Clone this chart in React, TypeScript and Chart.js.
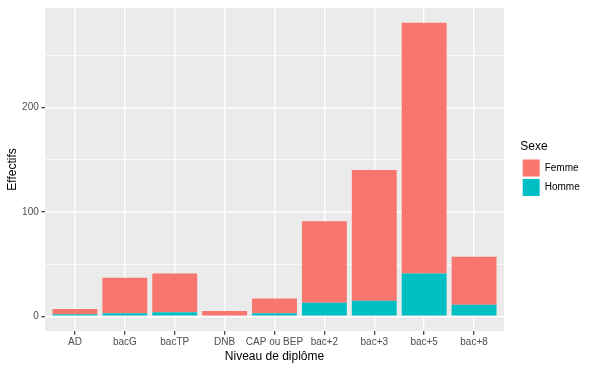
import React, { useEffect, useRef } from "react";
import { Chart, registerables } from "chart.js";

Chart.register(...registerables);

const categories = ["AD", "bacG", "bacTP", "DNB", "CAP ou BEP", "bac+2", "bac+3", "bac+5", "bac+8"];
const femme = [5, 34, 37, 5, 14, 78, 125, 240, 46];
const homme = [2, 3, 4, 0, 3, 13, 15, 41, 11];
const yTickValues = [0, 50, 100, 150, 200, 250];
const yLabeledTicks = [0, 100, 200];

const FEMME_COLOR = "#F8766D";
const HOMME_COLOR = "#00BFC4";
const PANEL_BG = "#EBEBEB";
const TICK_TEXT = "#4D4D4D";
const FONT = "'Liberation Sans', Arial, sans-serif";

const panelBg = {
  id: "panelBg",
  beforeDraw(chart: any) {
    const { ctx, chartArea } = chart;
    if (!chartArea) return;
    ctx.save();
    ctx.fillStyle = PANEL_BG;
    ctx.fillRect(chartArea.left, chartArea.top, chartArea.right - chartArea.left, chartArea.bottom - chartArea.top);
    ctx.restore();
  },
};

const legendPlace = {
  id: "legendPlace",
  beforeLayout(chart: any) {
    const lg = chart.legend;
    if (lg && !lg._patchedFit) {
      const orig = lg.fit.bind(lg);
      lg.fit = () => {
        orig();
        lg.width = 96;
      };
      lg._patchedFit = true;
    }
  },
  afterLayout(chart: any) {
    const lg = chart.legend;
    const ca = chart.chartArea;
    if (!lg || !ca) return;
    lg.left = ca.right + 16.2;
    lg.right = lg.left + 80;
    lg.top = ca.top;
    lg.bottom = ca.bottom;
  },
};

export default function App() {
  const canvasRef = useRef<HTMLCanvasElement | null>(null);

  useEffect(() => {
    document.body.style.margin = "0";
    const canvas = canvasRef.current;
    if (!canvas) return;

    const total = categories.map((_, i) => femme[i] + homme[i]);
    const maxTotal = Math.max(...total);
    const yMin = -0.05 * maxTotal;
    const yMax = 1.05 * maxTotal;
    const n = categories.length;

    const chart = new Chart(canvas, {
      type: "bar",
      data: {
        datasets: [
          {
            label: "Homme",
            data: homme.map((v, i) => ({ x: i, y: v })),
            backgroundColor: HOMME_COLOR,
            borderWidth: 0,
            barPercentage: 0.9,
            categoryPercentage: 1.0,
          },
          {
            label: "Femme",
            data: femme.map((v, i) => ({ x: i, y: v })),
            backgroundColor: FEMME_COLOR,
            borderWidth: 0,
            barPercentage: 0.9,
            categoryPercentage: 1.0,
          },
        ],
      },
      options: {
        responsive: false,
        animation: false,
        layout: { padding: { top: 6, left: 0, right: 0, bottom: 0 } },
        plugins: {
          tooltip: { enabled: false },
          legend: {
            position: "right",
            align: "center",
            reverse: true,
            title: {
              display: true,
              text: "Sexe",
              color: "#000000",
              font: { family: FONT, size: 12 },
              padding: { top: 0, bottom: 2 },
              position: "start",
            },
            labels: {
              boxWidth: 17,
              boxHeight: 17,
              padding: 2.5,
              color: "#000000",
              font: { family: FONT, size: 10 },
            },
          },
        },
        scales: {
          x: {
            type: "linear",
            stacked: true,
            offset: false,
            min: -0.6,
            max: n - 1 + 0.6,
            afterBuildTicks(scale: any) {
              scale.ticks = categories.map((_, i) => ({ value: i }));
            },
            afterFit(scale: any) {
              scale.height = 39;
            },
            ticks: {
              autoSkip: false,
              maxRotation: 0,
              minRotation: 0,
              padding: 2,
              color: TICK_TEXT,
              font: { family: FONT, size: 10 },
              callback: (value: any) => categories[Math.round(Number(value))] ?? "",
            },
            grid: {
              offset: false,
              color: "#FFFFFF",
              lineWidth: 1.4,
              drawTicks: true,
              tickLength: 3.7,
              tickColor: "#333333",
              tickWidth: 1.2,
            },
            border: { display: false },
            title: {
              display: true,
              text: "Niveau de diplôme",
              color: "#000000",
              font: { family: FONT, size: 12 },
              padding: { top: 0, bottom: 6 },
            },
          },
          y: {
            type: "linear",
            stacked: true,
            min: yMin,
            max: yMax,
            afterBuildTicks(scale: any) {
              scale.ticks = yTickValues.map((v) => ({ value: v }));
            },
            afterFit(scale: any) {
              scale.width = 45;
            },
            ticks: {
              autoSkip: false,
              padding: 2.5,
              color: TICK_TEXT,
              font: { family: FONT, size: 10, lineHeight: 1.1 },
              callback: (value: any) => (yLabeledTicks.includes(Number(value)) ? String(value) : ""),
            },
            grid: {
              color: "#FFFFFF",
              lineWidth: (ctx: any) => (yLabeledTicks.includes(ctx.tick?.value) ? 1.4 : 0.7),
              drawTicks: true,
              tickLength: 3.7,
              tickColor: (ctx: any) => (yLabeledTicks.includes(ctx.tick?.value) ? "#333333" : "rgba(0,0,0,0)"),
              tickWidth: 1.2,
            },
            border: { display: false },
            title: {
              display: true,
              text: "Effectifs",
              color: "#000000",
              font: { family: FONT, size: 12 },
              padding: { top: 5.6, bottom: 0 },
            },
          },
        },
      },
      plugins: [panelBg, legendPlace],
    } as any);

    return () => {
      chart.destroy();
    };
  }, []);

  return (
    <div style={{ width: 600, height: 370, background: "#FFFFFF" }}>
      <canvas ref={canvasRef} width={600} height={370} style={{ display: "block" }} />
    </div>
  );
}
